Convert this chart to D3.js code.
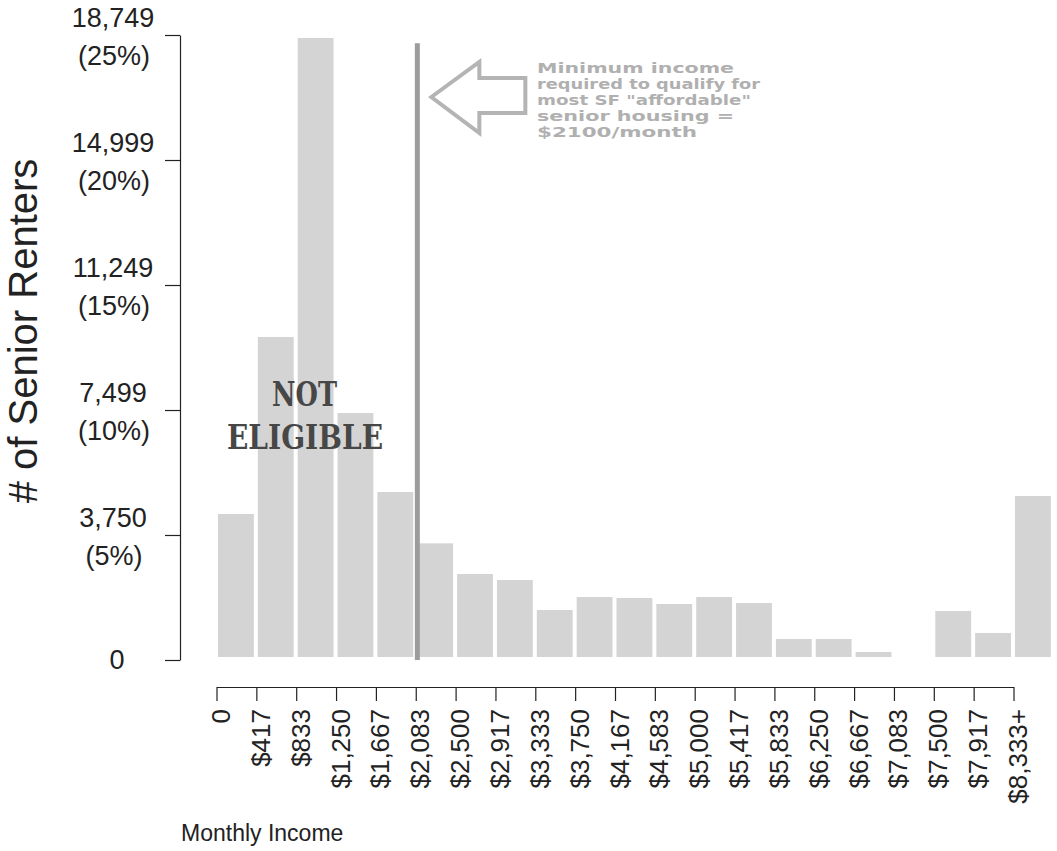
<!DOCTYPE html>
<html>
<head>
<meta charset="utf-8">
<script src="https://cdn.jsdelivr.net/npm/d3@7"></script>
<style>
  html, body { margin: 0; padding: 0; background: #ffffff; }
  svg { display: block; }
</style>
</head>
<body>
<script>
// ---- data ----
const incomeBins = ["0", "$417", "$833", "$1,250", "$1,667", "$2,083", "$2,500", "$2,917",
  "$3,333", "$3,750", "$4,167", "$4,583", "$5,000", "$5,417", "$5,833", "$6,250",
  "$6,667", "$7,083", "$7,500", "$7,917", "$8,333+"];
const renterCounts = [4380, 9690, 18660, 7410, 5040, 3500, 2580, 2400, 1500, 1890, 1860,
  1680, 1890, 1710, 630, 630, 240, 0, 1470, 810, 4920];
const yTickValues = [0, 3750, 7499, 11249, 14999, 18749];
const yTickPercents = ["", "(5%)", "(10%)", "(15%)", "(20%)", "(25%)"];
const binWidthDollars = 8333.33 / 20;
const minimumIncome = 2100;
const noteLines = ["Minimum income", "required to qualify for", "most SF \"affordable\"",
  "senior housing =", "$2100/month"];
const noteLineWidths = [197, 223, 214, 197, 160];

// ---- chart ----
const W = 1057, H = 851;
const svg = d3.select("body").append("svg").attr("width", W).attr("height", H);
const font = "'Liberation Sans', Arial, sans-serif";

const x = d3.scaleLinear().domain([0, 20]).range([216.5, 1013.5]);
const y = d3.scaleLinear().domain([0, 18749]).range([660, 35]);

// bars
svg.append("g").selectAll("rect").data(renterCounts).join("rect")
  .attr("x", (d, i) => x(i) + 1.5)
  .attr("width", (d, i) => x(i + 1) - x(i) - 4)
  .attr("y", d => y(d))
  .attr("height", d => Math.max(0, y(0) - 3 - y(d)))
  .attr("fill", "#d4d4d4");

// minimum income line
const lx = x(minimumIncome / binWidthDollars);
svg.append("line")
  .attr("x1", lx).attr("x2", lx)
  .attr("y1", y(0)).attr("y2", y(18500))
  .attr("stroke", "#9c9c9c").attr("stroke-width", 5);

// NOT ELIGIBLE
const stencil = svg.append("g")
  .attr("font-family", "'DejaVu Serif', 'Liberation Serif', serif")
  .attr("font-weight", "bold")
  .attr("fill", "#474747")
  .attr("text-anchor", "start");
stencil.append("text").attr("x", 272).attr("y", 406).attr("font-size", 33)
  .attr("textLength", 65).attr("lengthAdjust", "spacingAndGlyphs").text("NOT");
stencil.append("text").attr("x", 227).attr("y", 449).attr("font-size", 33)
  .attr("textLength", 156).attr("lengthAdjust", "spacingAndGlyphs").text("ELIGIBLE");

// arrow annotation
const tipX = lx + 14, tipY = 97;
const arrowPath = d3.path();
arrowPath.moveTo(tipX, tipY);
arrowPath.lineTo(tipX + 48, tipY - 35);
arrowPath.lineTo(tipX + 48, tipY - 19);
arrowPath.lineTo(tipX + 94, tipY - 19);
arrowPath.lineTo(tipX + 94, tipY + 16);
arrowPath.lineTo(tipX + 48, tipY + 16);
arrowPath.lineTo(tipX + 48, tipY + 36);
arrowPath.closePath();
svg.append("path").attr("d", arrowPath.toString())
  .attr("fill", "#ffffff").attr("stroke", "#b4b4b4").attr("stroke-width", 4)
  .attr("stroke-linejoin", "miter");

const note = svg.append("g")
  .attr("font-family", "'DejaVu Sans', sans-serif")
  .attr("font-size", 14.5)
  .attr("font-weight", "bold")
  .attr("fill", "#b0b0b0");
noteLines.forEach((t, i) => {
  note.append("text").attr("x", 537).attr("y", 73 + i * 16)
    .attr("textLength", noteLineWidths[i]).attr("lengthAdjust", "spacingAndGlyphs")
    .text(t);
});

// y axis
const yAxis = d3.axisLeft(y).tickValues(yTickValues).tickSize(15).tickSizeOuter(0).tickFormat("");
const gy = svg.append("g").attr("transform", "translate(180,0)").call(yAxis);
gy.selectAll("path, line").attr("stroke", "#222").attr("stroke-width", 1.2);
const yLabels = svg.append("g").attr("font-family", font).attr("font-size", 27)
  .attr("fill", "#222").attr("text-anchor", "middle");
yTickValues.forEach((v, i) => {
  if (v === 0) {
    yLabels.append("text").attr("x", 117).attr("y", y(v) + 9).text(d3.format(",")(v));
  } else {
    yLabels.append("text").attr("x", 113).attr("y", y(v) - 8).text(d3.format(",")(v));
    yLabels.append("text").attr("x", 114).attr("y", y(v) + 30).text(yTickPercents[i]);
  }
});

// y title
svg.append("text")
  .attr("transform", "translate(37,331) rotate(-90)")
  .attr("text-anchor", "middle")
  .attr("font-family", font).attr("font-size", 40).attr("fill", "#222")
  .text("# of Senior Renters");

// x axis
const xAxis = d3.axisBottom(x).tickValues(d3.range(21)).tickSize(14).tickSizeOuter(0)
  .tickFormat((d, i) => incomeBins[i]);
const gx = svg.append("g").attr("transform", "translate(0,687)").call(xAxis);
gx.selectAll("path, line").attr("stroke", "#222").attr("stroke-width", 1.2);
gx.selectAll("text")
  .attr("font-family", font).attr("font-size", 26).attr("fill", "#222")
  .attr("transform", "rotate(-90)")
  .attr("text-anchor", "end")
  .attr("x", -22).attr("y", 13).attr("dy", null);

// x title
svg.append("text").attr("x", 181).attr("y", 841)
  .attr("font-family", font).attr("font-size", 23).attr("fill", "#222")
  .text("Monthly Income");
</script>
</body>
</html>
